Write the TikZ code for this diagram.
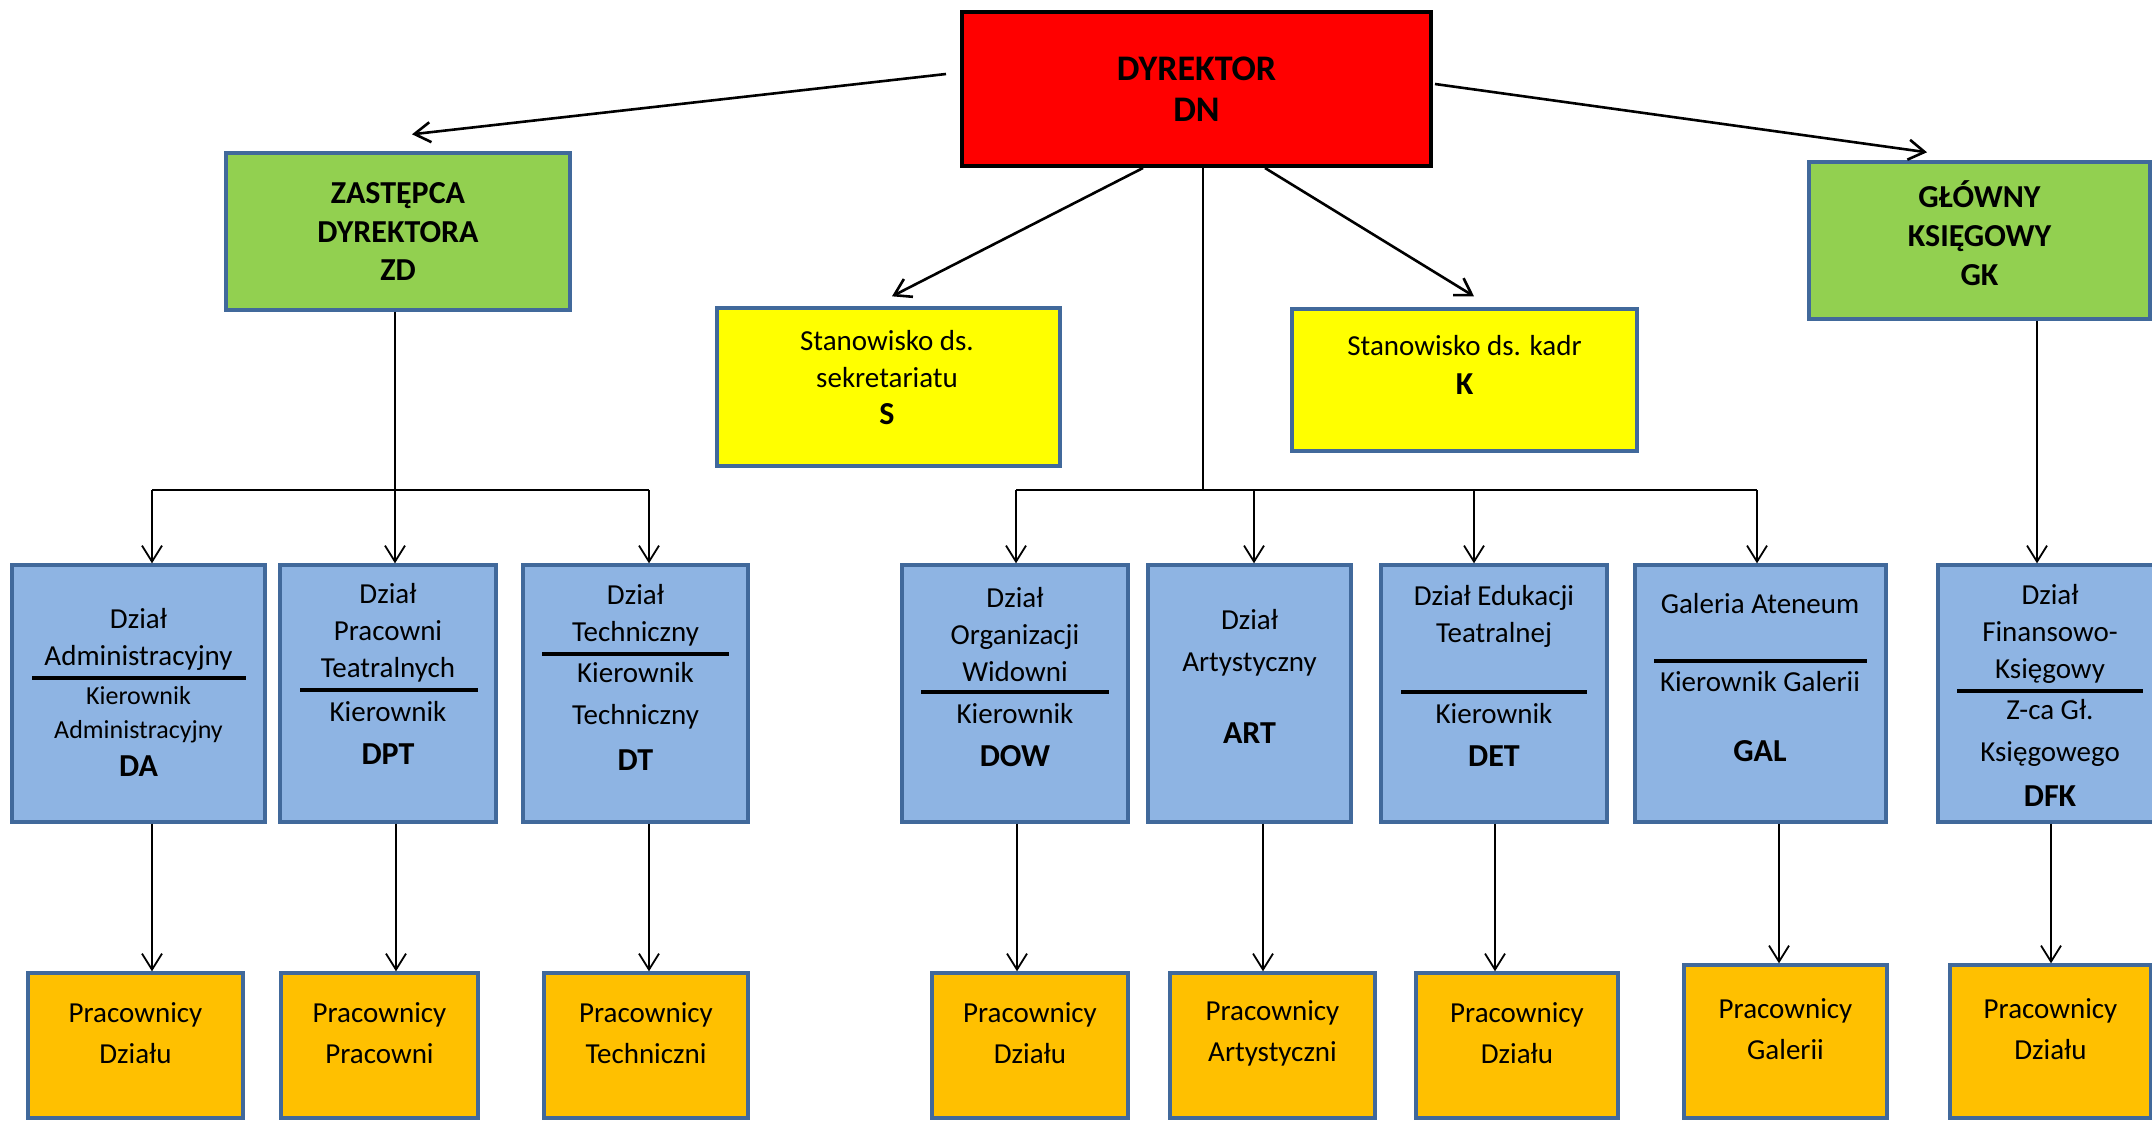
\documentclass[tikz,border=0pt]{standalone}
\usepackage{fontspec}
\setmainfont{Carlito}
\usetikzlibrary{arrows.meta,calc,positioning}

\definecolor{dnred}{RGB}{255,0,0}
\definecolor{zdgreen}{RGB}{146,208,80}
\definecolor{syellow}{RGB}{255,255,0}
\definecolor{deptblue}{RGB}{142,180,227}
\definecolor{staffor}{RGB}{255,192,0}
\definecolor{edgeblue}{RGB}{65,105,155}

\tikzset{
  box/.style={draw=edgeblue, line width=1.7pt, inner sep=0pt},
  dept/.style={box, fill=deptblue, minimum height=128.5pt},
  staff/.style={box, fill=staffor, minimum height=72.5pt},
  head/.style={box, fill=zdgreen, minimum height=78.5pt, align=center,
    font=\fontsize{16}{19.5}\selectfont\bfseries},
  txt/.style={align=center, inner sep=0pt, font=\fontsize{14.5}{18.5}\selectfont},
  code/.style={inner sep=0pt, font=\fontsize{16}{19}\selectfont\bfseries},
  arr/.style={-{Straight Barb[length=8pt,width=10pt]}, line width=0.9pt},
  sep/.style={line width=1.8pt},
}

\begin{document}
\begin{tikzpicture}[x=0.5pt,y=-0.5pt]
  \useasboundingbox (0,0) rectangle (2152,1120);
  \clip (0,0) rectangle (2152,1120);
  % top level
  \node[draw=black, fill=dnred, line width=2pt, minimum width=234.5pt, minimum height=77pt,
    align=center, font=\fontsize{18}{20.5}\selectfont\bfseries] (dn) at (1196.5,89) {DYREKTOR\\DN};
  \node[head, minimum width=172pt] (zd) at (398,231.5) {ZASTĘPCA\\DYREKTORA\\ZD};
  \node[head, minimum width=170.5pt] (gk) at (1979.5,240.5) {};
  \node[head, draw=none, fill=none, minimum height=0pt] (gk-t) at (1979.5,233.5) {GŁÓWNY\\KSIĘGOWY\\GK};
  \node[box, fill=syellow, minimum width=171.5pt, minimum height=79pt] (s) at (888.5,387) {};
  \node[txt] (s-t) at (887,359.5) {Stanowisko ds.\\sekretariatu};
  \node[code] (s-c) at (887,414) {S};
  \node[box, fill=syellow, minimum width=172.5pt, minimum height=71pt] (k) at (1464.5,380) {};
  \node[txt] (k-t) at (1464.5,346) {Stanowisko ds. kadr};
  \node[code] (k-c) at (1464.5,384) {K};

  % departments
  \node[dept, minimum width=126.5pt] (da) at (138.5,693.5) {};
  \node[dept, minimum width=108pt] (dpt) at (388,693.5) {};
  \node[dept, minimum width=112.5pt] (dt) at (635.5,693.5) {};
  \node[dept, minimum width=113pt] (dow) at (1015,693.5) {};
  \node[dept, minimum width=101.5pt] (art) at (1249.5,693.5) {};
  \node[dept, minimum width=113pt] (det) at (1494,693.5) {};
  \node[dept, minimum width=125.5pt] (gal) at (1760.5,693.5) {};
  \node[dept, minimum width=112pt] (dfk) at (2050,693.5) {};

  \node[txt] (da-t) at (138.5,639.5) {Dział\\Administracyjny};
  \draw[sep] (32,678) -- (246,678);
  \node[txt, font=\fontsize{13}{17}\selectfont] (da-k) at (138.5,715) {Kierownik\\Administracyjny};
  \node[code] (da-c) at (138.5,766) {DA};

  \node[txt] (dpt-t) at (388,633) {Dział\\Pracowni\\Teatralnych};
  \draw[sep] (300,690) -- (478,690);
  \node[txt] (dpt-k) at (388,712) {Kierownik};
  \node[code] (dpt-c) at (388,754) {DPT};

  \node[txt] (dt-t) at (635.5,615.5) {Dział\\Techniczny};
  \draw[sep] (542,654) -- (729,654);
  \node[txt, font=\fontsize{14.5}{21}\selectfont] (dt-k) at (635.5,696) {Kierownik\\Techniczny};
  \node[code] (dt-c) at (635.5,760) {DT};

  \node[txt] (dow-t) at (1015,634.5) {Dział\\Organizacji\\Widowni};
  \draw[sep] (921,692) -- (1109,692);
  \node[txt] (dow-k) at (1015,714) {Kierownik};
  \node[code] (dow-c) at (1015,756) {DOW};

  \node[txt, font=\fontsize{14.5}{21}\selectfont] (art-t) at (1249.5,643) {Dział\\Artystyczny};
  \node[code] (art-c) at (1249.5,733) {ART};

  \node[txt] (det-t) at (1494,616.5) {Dział Edukacji\\Teatralnej};
  \draw[sep] (1401,692) -- (1587,692);
  \node[txt] (det-k) at (1494,714) {Kierownik};
  \node[code] (det-c) at (1494,756) {DET};

  \node[txt] (gal-t) at (1760,604) {Galeria Ateneum};
  \draw[sep] (1654,661) -- (1867,661);
  \node[txt] (gal-k) at (1760,682) {Kierownik Galerii};
  \node[code] (gal-c) at (1760,751) {GAL};

  \node[txt] (dfk-t) at (2050,634) {Dział\\Finansowo-\\Księgowy};
  \draw[sep] (1957,691) -- (2143,691);
  \node[txt, font=\fontsize{14.5}{21}\selectfont] (dfk-k) at (2050,733) {Z-ca Gł.\\Księgowego};
  \node[code] (dfk-c) at (2050,796) {DFK};

  % staff
  \node[staff, minimum width=107.5pt] (daw) at (135.5,1045.5) {};
  \node[staff, minimum width=98.5pt] (dptw) at (379.5,1045.5) {};
  \node[staff, minimum width=102pt] (dtw) at (646,1045.5) {};
  \node[staff, minimum width=98pt] (doww) at (1030,1045.5) {};
  \node[staff, minimum width=102.5pt] (artw) at (1272.5,1045.5) {};
  \node[staff, minimum width=101pt] (detw) at (1517,1045.5) {};
  \node[staff, minimum width=101.5pt, minimum height=76.5pt] (galw) at (1785.5,1041.5) {};
  \node[staff, minimum width=100.5pt, minimum height=76.5pt] (dfkw) at (2050.5,1041.5) {};

  \node[txt, font=\fontsize{14.5}{20.5}\selectfont] (daw-t) at (135.5,1033.5) {Pracownicy\\Działu};
  \node[txt, font=\fontsize{14.5}{20.5}\selectfont] (dptw-t) at (379.5,1033.5) {Pracownicy\\Pracowni};
  \node[txt, font=\fontsize{14.5}{20.5}\selectfont] (dtw-t) at (646,1033.5) {Pracownicy\\Techniczni};
  \node[txt, font=\fontsize{14.5}{20.5}\selectfont] (doww-t) at (1030,1033.5) {Pracownicy\\Działu};
  \node[txt, font=\fontsize{14.5}{20.5}\selectfont] (artw-t) at (1272.5,1033.5) {Pracownicy\\Artystyczni};
  \node[txt, font=\fontsize{14.5}{20.5}\selectfont] (detw-t) at (1517,1033.5) {Pracownicy\\Działu};
  \node[txt, font=\fontsize{14.5}{20.5}\selectfont] (galw-t) at (1785.5,1029.5) {Pracownicy\\Galerii};
  \node[txt, font=\fontsize{14.5}{20.5}\selectfont] (dfkw-t) at (2050.5,1029.5) {Pracownicy\\Działu};

  % arrows from director
  \draw[arr, line width=1.3pt] ([xshift=-7pt,yshift=7.5pt]dn.west) -- ([xshift=7pt,yshift=8.5pt]zd.north);
  \draw[arr, line width=1.3pt] ([xshift=1pt,yshift=2.5pt]dn.east) -- ([xshift=-26.25pt,yshift=4pt]gk.north);
  \draw[arr, line width=1.3pt] ([xshift=-26.75pt]dn.south) -- ([xshift=1.75pt,yshift=5pt]s.north);
  \draw[arr, line width=1.3pt] ([xshift=34.25pt]dn.south) -- ([xshift=4.75pt,yshift=5.5pt]k.north);

  % buses
  \coordinate (z1) at (152,490);
  \coordinate (z3) at (649,490);
  \draw[line width=0.9pt] (z1) -- (z3);
  \draw[arr] (z1) -- (z1 |- da.north);
  \draw[arr] (z3) -- (z3 |- dt.north);
  \draw[arr] ([xshift=-1.5pt]zd.south) -- ([xshift=-1.5pt]zd.south |- dpt.north);

  \coordinate (m1) at (1016,490);
  \coordinate (m2) at (1254,490);
  \coordinate (m3) at (1474,490);
  \coordinate (m4) at (1757,490);
  \draw[line width=0.9pt] (m1) -- (m4);
  \draw[line width=0.8pt] ([xshift=3.25pt]dn.south) -- ([xshift=3.25pt]dn.south |- m1);
  \draw[arr] (m1) -- (m1 |- dow.north);
  \draw[arr] (m2) -- (m2 |- art.north);
  \draw[arr] (m3) -- (m3 |- det.north);
  \draw[arr] (m4) -- (m4 |- gal.north);
  \draw[arr] ([xshift=28.75pt]gk.south) -- ([xshift=28.75pt]gk.south |- dfk.north);

  % to staff
  \draw[arr] ([xshift=6.75pt]da.south) -- ([xshift=6.75pt]da.south |- daw.north);
  \draw[arr] ([xshift=4pt]dpt.south) -- ([xshift=4pt]dpt.south |- dptw.north);
  \draw[arr] ([xshift=6.75pt]dt.south) -- ([xshift=6.75pt]dt.south |- dtw.north);
  \draw[arr] ([xshift=1pt]dow.south) -- ([xshift=1pt]dow.south |- doww.north);
  \draw[arr] ([xshift=6.75pt]art.south) -- ([xshift=6.75pt]art.south |- artw.north);
  \draw[arr] ([xshift=0.5pt]det.south) -- ([xshift=0.5pt]det.south |- detw.north);
  \draw[arr] ([xshift=9.25pt]gal.south) -- ([xshift=9.25pt]gal.south |- galw.north);
  \draw[arr] ([xshift=0.5pt]dfk.south) -- ([xshift=0.5pt]dfk.south |- dfkw.north);
\end{tikzpicture}
\end{document}
